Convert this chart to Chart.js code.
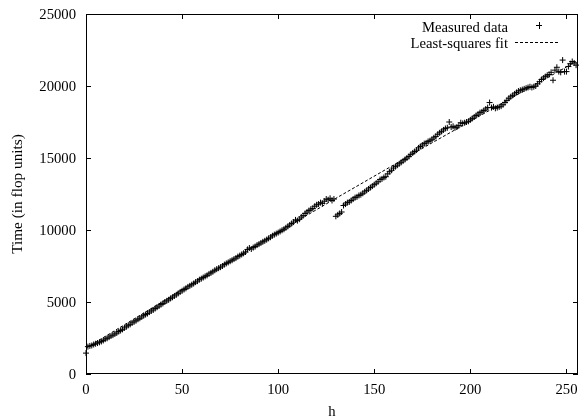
<!DOCTYPE html>
<html>
<head>
<meta charset="utf-8">
<script src="https://cdn.jsdelivr.net/npm/chart.js@4"></script>
<style>
html, body { margin: 0; padding: 0; background: #fff; }
#wrap { width: 579px; height: 417px; }
</style>
</head>
<body>
<div id="wrap"><canvas id="myChart" width="579" height="417"></canvas></div>
<script>
// measured running time for h = 0 .. 255
const measured = [
  1450, 1900, 1950, 1980, 2050, 2100, 2150, 2200, 2260, 2330,
  2420, 2480, 2560, 2640, 2700, 2780, 2850, 2950, 3020, 3100,
  3200, 3280, 3380, 3450, 3550, 3620, 3700, 3800, 3870, 3960,
  4050, 4130, 4200, 4300, 4380, 4450, 4550, 4640, 4720, 4820,
  4900, 5000, 5080, 5150, 5250, 5330, 5420, 5500, 5600, 5700,
  5780, 5870, 5950, 6050, 6120, 6200, 6280, 6380, 6450, 6550,
  6620, 6700, 6780, 6850, 6950, 7020, 7100, 7200, 7280, 7350,
  7420, 7500, 7600, 7680, 7750, 7830, 7900, 7980, 8050, 8150,
  8220, 8300, 8380, 8470, 8650, 8750, 8680, 8780, 8850, 8950,
  9020, 9100, 9180, 9250, 9330, 9420, 9500, 9600, 9680, 9750,
  9820, 9900, 9980, 10050, 10150, 10250, 10350, 10450, 10550, 10700,
  10650, 10750, 10900, 11000, 11150, 11250, 11350, 11450, 11500, 11650,
  11750, 11800, 11900, 11850, 12000, 12150, 12100, 12200, 12050, 12150,
  10950, 11050, 11150, 11250, 11700, 11800, 11900, 11950, 12050, 12150,
  12250, 12300, 12400, 12450, 12550, 12650, 12750, 12850, 12950, 13050,
  13150, 13250, 13350, 13500, 13550, 13650, 13700, 13900, 14050, 14150,
  14300, 14400, 14500, 14600, 14700, 14800, 14900, 15000, 15100, 15250,
  15350, 15450, 15550, 15700, 15800, 15900, 16000, 16050, 16150, 16200,
  16300, 16400, 16500, 16650, 16750, 16850, 16950, 17050, 17100, 17500,
  17150, 17200, 17100, 17150, 17250, 17450, 17400, 17450, 17500, 17550,
  17650, 17750, 17850, 17950, 18050, 18150, 18200, 18300, 18400, 18500,
  18850, 18500, 18550, 18450, 18500, 18550, 18600, 18700, 18850, 19000,
  19150, 19250, 19350, 19450, 19550, 19650, 19700, 19750, 19800, 19850,
  19900, 19950, 19900, 19950, 20000, 20150, 20300, 20450, 20550, 20650,
  20750, 20800, 20950, 20400, 21100, 21300, 21000, 20950, 21800, 21000,
  21000, 21350, 21550, 21700, 21600, 21450
];

// least-squares fit, read at a few h values
const fitH = [0, 50, 100, 130, 180, 255];
const fitY = [1800, 5850, 9850, 12200, 16050, 21700];

const xTicks = [0, 50, 100, 150, 200, 250];
const yTicks = [0, 5000, 10000, 15000, 20000, 25000];

const labels = ['Measured data', 'Least-squares fit'];
const xTitle = 'h';
const yTitle = 'Time (in flop units)';
const fontFamily = '"Liberation Serif", "Times New Roman", serif';
const fontSize = 14.7;

const measuredPts = measured.map((v, i) => ({ x: i, y: v }));
const fitPts = fitH.map((h, i) => ({ x: h, y: fitY[i] }));

const framePlugin = {
  id: 'frame',
  afterDraw(chart) {
    const { ctx, chartArea: a, scales } = chart;
    const x = scales.x, y = scales.y;
    ctx.save();
    ctx.strokeStyle = '#000';
    ctx.fillStyle = '#000';
    ctx.lineWidth = 1;
    ctx.strokeRect(a.left + 0.5, a.top + 0.5, a.right - a.left - 1, a.bottom - a.top - 1);
    ctx.beginPath();
    xTicks.forEach(v => {
      const px = Math.round(x.getPixelForValue(v)) + 0.5;
      ctx.moveTo(px, a.bottom); ctx.lineTo(px, a.bottom - 5);
      ctx.moveTo(px, a.top); ctx.lineTo(px, a.top + 5);
    });
    yTicks.forEach(v => {
      const py = Math.round(y.getPixelForValue(v)) + 0.5;
      ctx.moveTo(a.left, py); ctx.lineTo(a.left + 5, py);
      ctx.moveTo(a.right, py); ctx.lineTo(a.right - 5, py);
    });
    ctx.stroke();

    // tick labels
    ctx.font = fontSize + 'px ' + fontFamily;
    ctx.textBaseline = 'alphabetic';
    ctx.textAlign = 'center';
    xTicks.forEach(v => ctx.fillText(String(v), x.getPixelForValue(v), a.bottom + 20));
    ctx.textAlign = 'right';
    yTicks.forEach(v => ctx.fillText(String(v), a.left - 10, y.getPixelForValue(v) + 5));

    // axis titles
    ctx.textAlign = 'center';
    ctx.fillText(xTitle, (a.left + a.right) / 2, 416);
    ctx.save();
    ctx.translate(22, (a.top + a.bottom) / 2);
    ctx.rotate(-Math.PI / 2);
    ctx.font = '15.3px ' + fontFamily;
    ctx.fillText(yTitle, 0, 0);
    ctx.restore();

    // key, gnuplot style
    ctx.textAlign = 'right';
    ctx.fillText(labels[0], 508, 32);
    ctx.fillText(labels[1], 508, 48);
    ctx.beginPath();
    ctx.moveTo(536, 25.5); ctx.lineTo(542, 25.5);
    ctx.moveTo(539.5, 22); ctx.lineTo(539.5, 29);
    ctx.stroke();
    ctx.setLineDash([3, 2]);
    ctx.beginPath();
    ctx.moveTo(515, 42.5); ctx.lineTo(560, 42.5);
    ctx.stroke();
    ctx.restore();
  }
};

const ctx = document.getElementById('myChart').getContext('2d');
const myChart = new Chart(ctx, {
  type: 'scatter',
  data: {
    datasets: [{
      label: labels[0],
      data: measuredPts,
      pointStyle: 'cross',
      pointRadius: 3,
      pointBorderWidth: 1,
      borderColor: '#000',
      backgroundColor: '#000',
      clip: false
    }, {
      label: labels[1],
      data: fitPts,
      showLine: true,
      pointRadius: 0,
      borderColor: '#000',
      borderWidth: 1,
      borderDash: [3, 2]
    }]
  },
  options: {
    responsive: false,
    animation: false,
    events: [],
    layout: { autoPadding: false, padding: { top: 14, right: 1, left: 0, bottom: 0 } },
    plugins: {
      legend: { display: false },
      tooltip: { enabled: false }
    },
    scales: {
      x: {
        type: 'linear',
        min: 0,
        max: 256,
        afterFit(scale) { scale.height = 43; },
        afterBuildTicks(scale) { scale.ticks = xTicks.map(v => ({ value: v })); },
        grid: { display: false, drawTicks: false },
        border: { display: false },
        ticks: { display: false }
      },
      y: {
        type: 'linear',
        min: 0,
        max: 25000,
        afterFit(scale) { scale.width = 86; },
        afterBuildTicks(scale) { scale.ticks = yTicks.map(v => ({ value: v })); },
        grid: { display: false, drawTicks: false },
        border: { display: false },
        ticks: { display: false }
      }
    }
  },
  plugins: [framePlugin]
});
</script>
</body>
</html>
